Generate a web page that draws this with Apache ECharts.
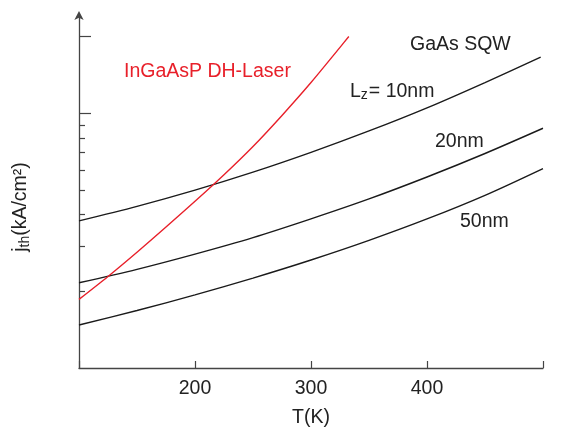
<!DOCTYPE html>
<html><head><meta charset="utf-8">
<script src="https://cdn.jsdelivr.net/npm/echarts@6/dist/echarts.min.js"></script>
<style>html,body{margin:0;padding:0;background:#fff}#c{width:573px;height:428px}</style>
</head><body><div id="c"></div>
<script>
// Temperatures (K) and threshold current densities j_th (kA/cm^2)
const temps10 = [100, 150, 200, 250, 300, 350, 400, 450, 498];
const lz10 = [3.78, 4.31, 4.99, 5.87, 7.02, 8.52, 10.5, 13.2, 16.6];
const temps = [100, 150, 200, 250, 300, 350, 400, 450, 500];
const lz20 = [2.16, 2.44, 2.80, 3.25, 3.85, 4.61, 5.62, 6.95, 8.73];
const lz50 = [1.475, 1.682, 1.936, 2.254, 2.654, 3.169, 3.846, 4.762, 6.065];
const tempsDH = [100, 125, 150, 175, 200, 225, 250, 275, 300, 325, 332.6];
const dh = [1.86, 2.288, 2.848, 3.577, 4.512, 5.736, 7.405, 9.806, 13.2, 18.14, 20.0];
const xTickLabels = [200, 300, 400];
const yMajorTicks = [10, 20];
const yMinorTicks = [2, 3, 4, 5, 6, 7, 8, 9];

const FONT = 'Liberation Sans, Arial, Helvetica, sans-serif';
const FS = 19.5;
const zip = (xs, ys) => xs.map((x, i) => [x, ys[i]]);
const chart = echarts.init(document.getElementById('c'));

const lineS = (data, color) => ({
  type: 'line', data, showSymbol: false, smooth: 0.3, silent: true,
  lineStyle: { color, width: 1.4 }, z: 3
});

const yBase = {
  type: 'log', logBase: 10, min: 1, max: 24.3, position: 'left', offset: 0,
  splitLine: { show: false }, axisLabel: { show: false }
};

chart.setOption({
  animation: false,
  grid: { left: 79, right: 30, top: 15, bottom: 60, containLabel: false, outerBoundsMode: 'none' },
  xAxis: {
    type: 'value', min: 100, max: 500, interval: 100,
    axisLine: { lineStyle: { color: '#444', width: 1.3 } },
    axisTick: { inside: true, length: 7, lineStyle: { color: '#444', width: 1.2 } },
    splitLine: { show: false },
    axisLabel: {
      color: '#222', fontFamily: FONT, fontSize: FS, margin: 11,
      formatter: v => xTickLabels.indexOf(v) >= 0 ? String(v) : ''
    },
    name: 'T(K)', nameLocation: 'middle', nameGap: 40,
    nameTextStyle: { color: '#222', fontFamily: FONT, fontSize: FS }
  },
  yAxis: [
    Object.assign({}, yBase, {
      axisLine: { show: true, symbol: ['none', 'arrow'], symbolSize: [7, 9], symbolOffset: [0, 4],
        lineStyle: { color: '#444', width: 1.3 } },
      axisTick: { show: true, inside: true, length: 12, customValues: yMajorTicks,
        lineStyle: { color: '#444', width: 1.2 } }
    }),
    Object.assign({}, yBase, {
      axisLine: { show: false },
      axisTick: { show: true, inside: true, length: 6, customValues: yMinorTicks,
        lineStyle: { color: '#444', width: 1.2 } }
    })
  ],
  series: [
    lineS(zip(temps10, lz10), '#1a1a1a'),
    lineS(zip(temps, lz20), '#1a1a1a'),
    lineS(zip(temps, lz50), '#1a1a1a'),
    lineS(zip(tempsDH, dh), '#e8202a')
  ],
  graphic: [
    { type: 'text', x: 21, y: 207, rotation: Math.PI / 2, style: {
      text: '{a|j}{s|th}{a|(kA/cm²)}', align: 'center', verticalAlign: 'middle',
      rich: { a: { fontFamily: FONT, fontSize: FS, fill: '#222' },
              s: { fontFamily: FONT, fontSize: 14, fill: '#222', padding: [9, 0, 0, 0], verticalAlign: 'bottom' } } } },
    { type: 'text', left: 124, top: 62, style: { text: 'InGaAsP DH-Laser', fill: '#e8202a', font: FS + 'px ' + FONT } },
    { type: 'text', left: 410, top: 35, style: { text: 'GaAs SQW', fill: '#222', font: FS + 'px ' + FONT } },
    { type: 'text', left: 350, top: 82, style: {
      text: '{a|L}{s|z}{a|= 10nm}', fill: '#222',
      rich: { a: { fontFamily: FONT, fontSize: FS, fill: '#222' },
              s: { fontFamily: FONT, fontSize: 14, fill: '#222', padding: [7, 1, 0, 0], verticalAlign: 'bottom' } } } },
    { type: 'text', left: 435, top: 132, style: { text: '20nm', fill: '#222', font: FS + 'px ' + FONT } },
    { type: 'text', left: 460, top: 212, style: { text: '50nm', fill: '#222', font: FS + 'px ' + FONT } }
  ]
});
</script></body></html>
